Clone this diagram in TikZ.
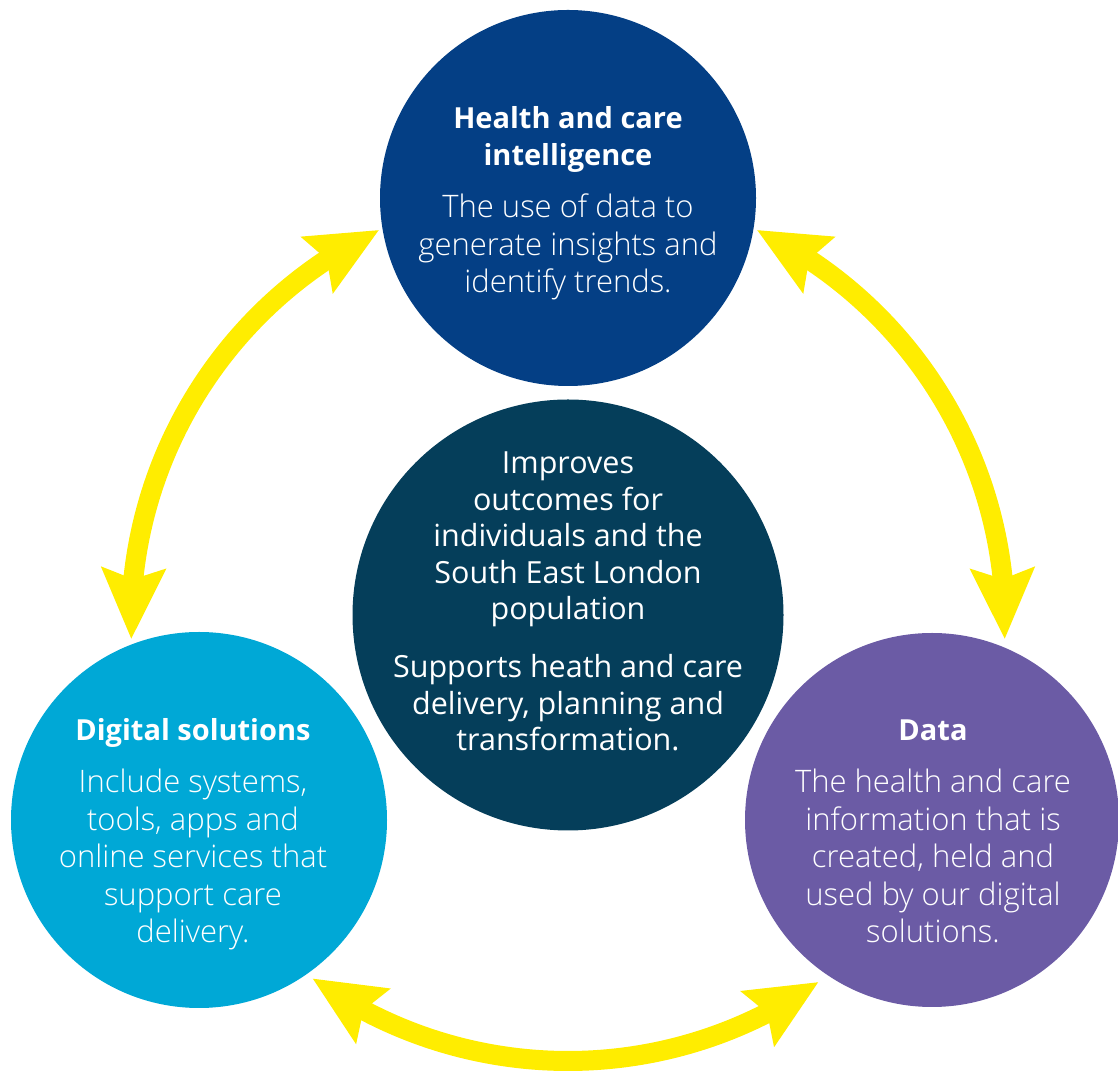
\documentclass[tikz,border=0pt]{standalone}
\usepackage{fontspec}
\setmainfont{Open Sans}
\newfontfamily\lightfont{Open Sans Light}
\usetikzlibrary{arrows.meta,bending}
\definecolor{hcblue}{HTML}{043F85}
\definecolor{midteal}{HTML}{053E5A}
\definecolor{digicyan}{HTML}{00A8D6}
\definecolor{datapurple}{HTML}{6B5BA5}
\definecolor{arrowyellow}{HTML}{FFED00}
\tikzset{
  bubble/.style={circle, inner sep=0pt, draw=none},
  heading/.style={text=white, font=\fontsize{29}{37}\selectfont\bfseries, align=center, anchor=base, inner sep=0pt},
  bodytext/.style={text=white, font=\fontsize{31}{37.5}\selectfont\lightfont, align=center, anchor=base, inner sep=0pt},
  midtext/.style={text=white, font=\fontsize{30.5}{36.6}\selectfont, align=center, anchor=base, inner sep=0pt},
  cycle arrow/.style={draw=arrowyellow, line width=20pt,
    arrows={Stealth[length=70pt,width=62pt,inset=10pt,fill=arrowyellow]-Stealth[length=70pt,width=62pt,inset=10pt,fill=arrowyellow]}}
}
\begin{document}
\begin{tikzpicture}[x=1pt,y=1pt]
\useasboundingbox (0,0) rectangle (1118,1070);
% ring centre for the arrows
\coordinate (ring) at (568,446);
% circles
\node[bubble, fill=hcblue, minimum size=376pt] (hci) at (568,872) {};
\node[bubble, fill=midteal, minimum size=431pt] (mid) at (568,455) {};
\node[bubble, fill=digicyan, minimum size=376pt] (digi) at (199,250) {};
\node[bubble, fill=datapurple, minimum size=374pt] (data) at (932,250) {};
% arrows
\draw[cycle arrow] ([shift={(182:437)}]ring) arc[start angle=182, end angle=115.6, radius=437];
\draw[cycle arrow] ([shift={(-2:437)}]ring) arc[start angle=-2, end angle=64.4, radius=437];
\draw[cycle arrow] ([shift={(234.2:437)}]ring) arc[start angle=234.2, end angle=305, radius=437];
% texts (anchor=base is the baseline of the last line)
\node[heading] (hcih) at (568,904) {Health and care\\intelligence};
\node[bodytext] (hcib) at (568,777) {The use of data to\\generate insights and\\identify trends.};
\node[midtext] (mida) at (568,450) {Improves\\outcomes for\\individuals and the\\South East London\\population};
\node[midtext] (midb) at (568,319) {Supports heath and care\\delivery, planning and\\transformation.};
\node[heading] (digih) at (193,329) {Digital solutions};
\node[bodytext] (digib) at (193,127) {Include systems,\\tools, apps and\\online services that\\support care\\delivery.};
\node[heading] (datah) at (933,329) {Data};
\node[bodytext] (datab) at (933,127) {The health and care\\information that is\\created, held and\\used by our digital\\solutions.};
\end{tikzpicture}
\end{document}
